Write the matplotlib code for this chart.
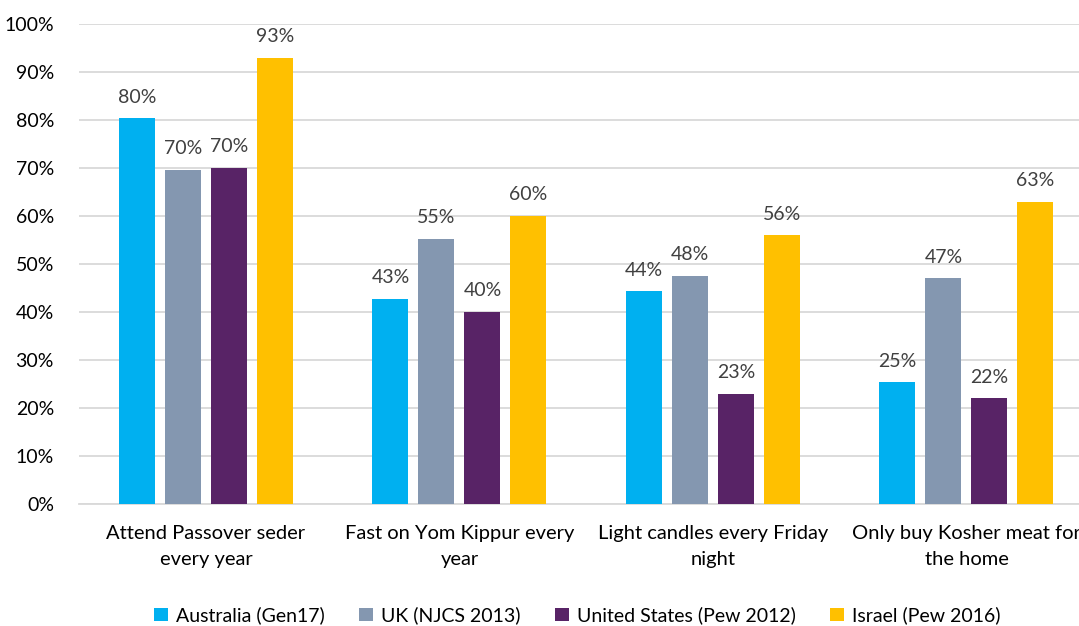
import numpy as np
import matplotlib.pyplot as plt

plt.rcParams['font.family'] = ['Lato', 'DejaVu Sans']

categories = ['Attend Passover seder\nevery year',
              'Fast on Yom Kippur every\nyear',
              'Light candles every Friday\nnight',
              'Only buy Kosher meat for\nthe home']
series = ['Australia (Gen17)', 'UK (NJCS 2013)', 'United States (Pew 2012)', 'Israel (Pew 2016)']
australia = [80.4, 42.8, 44.3, 25.4]
uk = [69.6, 55.3, 47.6, 47.0]
usa = [70.0, 40.0, 23.0, 22.0]
israel = [93.0, 60.0, 56.0, 63.0]
colors = ['#00B0F0', '#8497B0', '#582366', '#FFC000']

fig = plt.figure(figsize=(10.79, 6.26), dpi=100)
ax = fig.add_axes([79 / 1079, 1 - 504 / 626, 1000 / 1079, 480 / 626])

x = np.arange(len(categories))
pitch = 0.1815
width = 0.142
for i, (name, vals) in enumerate(zip(series, [australia, uk, usa, israel])):
    pos = x + (i - 1.5) * pitch
    bars = ax.bar(pos, vals, width, color=colors[i], label=name, zorder=3)
    for b, v in zip(bars, vals):
        ax.annotate(f'{v:.0f}%', (b.get_x() + b.get_width() / 2, v),
                    xytext=(0, 9), textcoords='offset points',
                    ha='center', va='bottom', fontsize=14, color='#404040')

ax.set_xlim(-0.501, 3.444)
ax.set_ylim(0, 100)
ax.set_yticks(np.arange(0, 101, 10))
ax.set_yticklabels([f'{t}%' for t in range(0, 101, 10)])
ax.yaxis.grid(True, color='#D9D9D9', linewidth=1.3, zorder=0)
ax.set_xticks(x)
ax.set_xticklabels(categories, fontsize=14.5, linespacing=1.65)
ax.tick_params(axis='y', length=0, labelsize=14, pad=18)
ax.tick_params(axis='x', length=0, pad=15)
for s in ['top', 'right', 'left']:
    ax.spines[s].set_visible(False)
ax.spines['bottom'].set_color('#D9D9D9')
ax.spines['bottom'].set_linewidth(1.3)

fig.legend(loc='lower center', bbox_to_anchor=(0.535, -0.025), ncol=4, frameon=False,
           fontsize=14, handlelength=0.7, handleheight=0.7, handletextpad=0.4,
           columnspacing=1.8)

fig.savefig('out.png', dpi=100)
